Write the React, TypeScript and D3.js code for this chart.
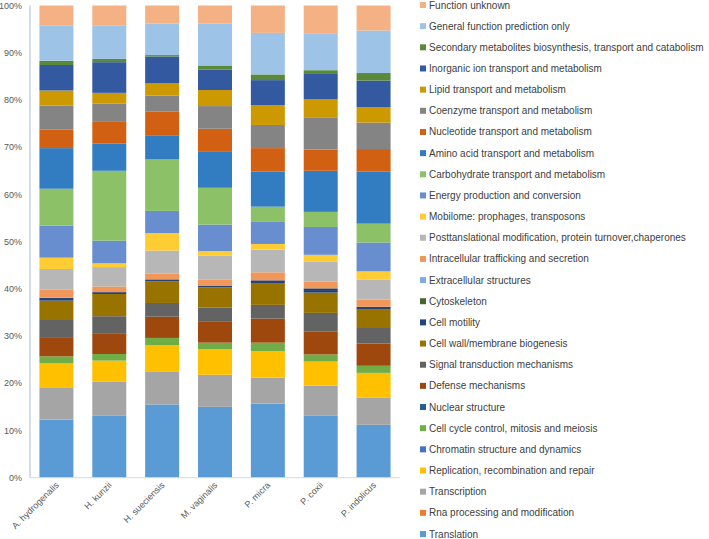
import React from "react";
import * as d3 from "d3";

const species = [
  "A. hydrogenalis",
  "H. kunzii",
  "H. sueciensis",
  "M. vaginalis",
  "P. micra",
  "P. coxii",
  "P. indolicus",
];

// COG categories in stacking order (bottom -> top)
const categories = [
  "Translation",
  "Rna processing and modification",
  "Transcription",
  "Replication, recombination and repair",
  "Chromatin structure and dynamics",
  "Cell cycle control, mitosis and meiosis",
  "Nuclear structure",
  "Defense mechanisms",
  "Signal transduction mechanisms",
  "Cell wall/membrane biogenesis",
  "Cell motility",
  "Cytoskeleton",
  "Extracellular structures",
  "Intracellular trafficking and secretion",
  "Posttanslational modification, protein turnover,chaperones",
  "Mobilome: prophages, transposons",
  "Energy production and conversion",
  "Carbohydrate transport and metabolism",
  "Amino acid transport and metabolism",
  "Nucleotide transport and metabolism",
  "Coenzyme transport and metabolism",
  "Lipid transport and metabolism",
  "Inorganic ion transport and metabolism",
  "Secondary metabolites biosynthesis, transport and catabolism",
  "General function prediction only",
  "Function unknown",
];

const colors = [
  "#5B9BD5", "#ED7D31", "#A5A5A5", "#FFC000", "#4472C4", "#70AD47",
  "#255E91", "#9E480E", "#636363", "#997300", "#264478", "#43682B",
  "#7CAFDD", "#F1975A", "#B7B7B7", "#FFCD33", "#698ED0", "#8CC168",
  "#327DC2", "#D26012", "#848484", "#CC9A00", "#335AA1", "#5A8A39",
  "#9DC3E6", "#F4B183",
];

// percentages per species, in category order
const aHydrogenalis = [12.3, 0, 6.7, 5.2, 0, 1.5, 0, 3.9, 3.8, 4.1, 0.6, 0, 0.1, 1.6, 4.4, 2.4, 6.8, 7.8, 8.6, 3.9, 5.1, 3.2, 5.4, 0.9, 7.4, 4.3];
const hKunzii = [13.1, 0, 7.2, 4.5, 0, 1.4, 0, 4.4, 3.6, 4.7, 0.4, 0, 0, 1.2, 4.1, 0.8, 4.8, 14.8, 5.8, 4.7, 3.7, 2.3, 6.5, 0.7, 7.0, 4.3];
const hSueciensis = [15.5, 0, 6.9, 5.7, 0, 1.5, 0, 4.5, 2.9, 4.6, 0.4, 0, 0, 1.2, 4.9, 3.7, 4.7, 10.9, 5.0, 5.1, 3.4, 2.6, 5.7, 0.3, 6.7, 3.8];
const mVaginalis = [15.0, 0, 6.8, 5.4, 0, 1.4, 0, 4.4, 3.0, 4.3, 0.3, 0, 0, 1.4, 5.0, 1.0, 5.6, 7.8, 7.6, 4.9, 4.8, 3.4, 4.3, 0.9, 8.9, 3.8];
const pMicra = [15.7, 0, 5.5, 5.6, 0, 1.8, 0, 5.1, 2.9, 4.5, 0.7, 0, 0, 1.7, 4.8, 1.2, 4.8, 3.1, 7.4, 5.0, 4.9, 4.2, 5.3, 1.2, 8.8, 5.8];
const pCoxii = [13.2, 0, 6.3, 5.1, 0, 1.5, 0, 4.9, 3.9, 4.3, 0.9, 0, 0, 1.4, 4.2, 1.5, 5.9, 3.2, 8.7, 4.5, 6.7, 3.9, 5.4, 0.8, 7.7, 6.0];
const pIndolicus = [11.2, 0, 5.8, 5.2, 0, 1.5, 0, 4.7, 3.3, 3.9, 0.6, 0, 0, 1.5, 4.2, 1.8, 6.1, 4.0, 11.0, 4.8, 5.6, 3.3, 5.6, 1.6, 9.0, 5.3];

const seriesBySpecies = [aHydrogenalis, hKunzii, hSueciensis, mVaginalis, pMicra, pCoxii, pIndolicus];

const yTicks = [0, 0.1, 0.2, 0.3, 0.4, 0.5, 0.6, 0.7, 0.8, 0.9, 1];

const FONT = "'Liberation Sans', Arial, sans-serif";

export default function App() {
  const width = 709;
  const height = 539;
  const plotLeft = 30;
  const plotRight = 400;
  const plotTop = 5.5;
  const plotBottom = 477.7;

  const table = species.map((s, i) => {
    const row: Record<string, any> = { species: s };
    categories.forEach((c, j) => (row[c] = seriesBySpecies[i][j]));
    return row;
  });

  const stack = d3.stack<any>().keys(categories).offset(d3.stackOffsetExpand);
  const stacked = stack(table);

  const x = d3
    .scaleBand<string>()
    .domain(species)
    .range([plotLeft, plotRight])
    .paddingInner(0.357)
    .paddingOuter(0.1785);
  const y = d3.scaleLinear().domain([0, 1]).range([plotBottom, plotTop]);

  const legendX = 420;
  const legendTop = 5;
  const legendStep = 21.16;
  const legendItems = categories.map((c, i) => ({ c, color: colors[i] })).reverse();

  return (
    <svg
      width={width}
      height={height}
      style={{ position: "absolute", left: 0, top: 0, background: "#fff" }}
      fontFamily={FONT}
    >
      {/* bars */}
      {stacked.map((layer, li) => (
        <g key={layer.key} fill={colors[li]}>
          {layer.map((d, bi) => {
            const h = y(d[0]) - y(d[1]);
            if (h <= 0) return null;
            return (
              <rect
                key={bi}
                x={x(species[bi])}
                y={y(d[1])}
                width={x.bandwidth()}
                height={h}
              />
            );
          })}
        </g>
      ))}

      {/* axes */}
      <line x1={plotLeft} x2={plotRight} y1={plotBottom} y2={plotBottom} stroke="#D9D9D9" strokeWidth={1} />
      <line x1={plotLeft} x2={plotLeft} y1={plotTop} y2={plotBottom} stroke="#A9BCD6" strokeWidth={1} />

      {yTicks.map((t) => (
        <text
          key={t}
          x={22}
          y={y(t)}
          dy="0.35em"
          textAnchor="end"
          fontSize={9}
          fill="#595959"
        >
          {d3.format(".0%")(t)}
        </text>
      ))}

      {species.map((s) => {
        const cx = (x(s) as number) + x.bandwidth() / 2 + 3;
        const cy = plotBottom + 8;
        return (
          <text
            key={s}
            transform={`translate(${cx},${cy}) rotate(-45)`}
            textAnchor="end"
            fontSize={9}
            fill="#595959"
          >
            {s}
          </text>
        );
      })}

      {/* legend */}
      {legendItems.map((it, i) => {
        const cy = legendTop + i * legendStep;
        return (
          <g key={it.c}>
            <rect x={legendX} y={cy - 3} width={6} height={6} fill={it.color} />
            <text x={legendX + 9} y={cy} dy="0.35em" fontSize={10} fill="#404040">
              {it.c}
            </text>
          </g>
        );
      })}
    </svg>
  );
}
